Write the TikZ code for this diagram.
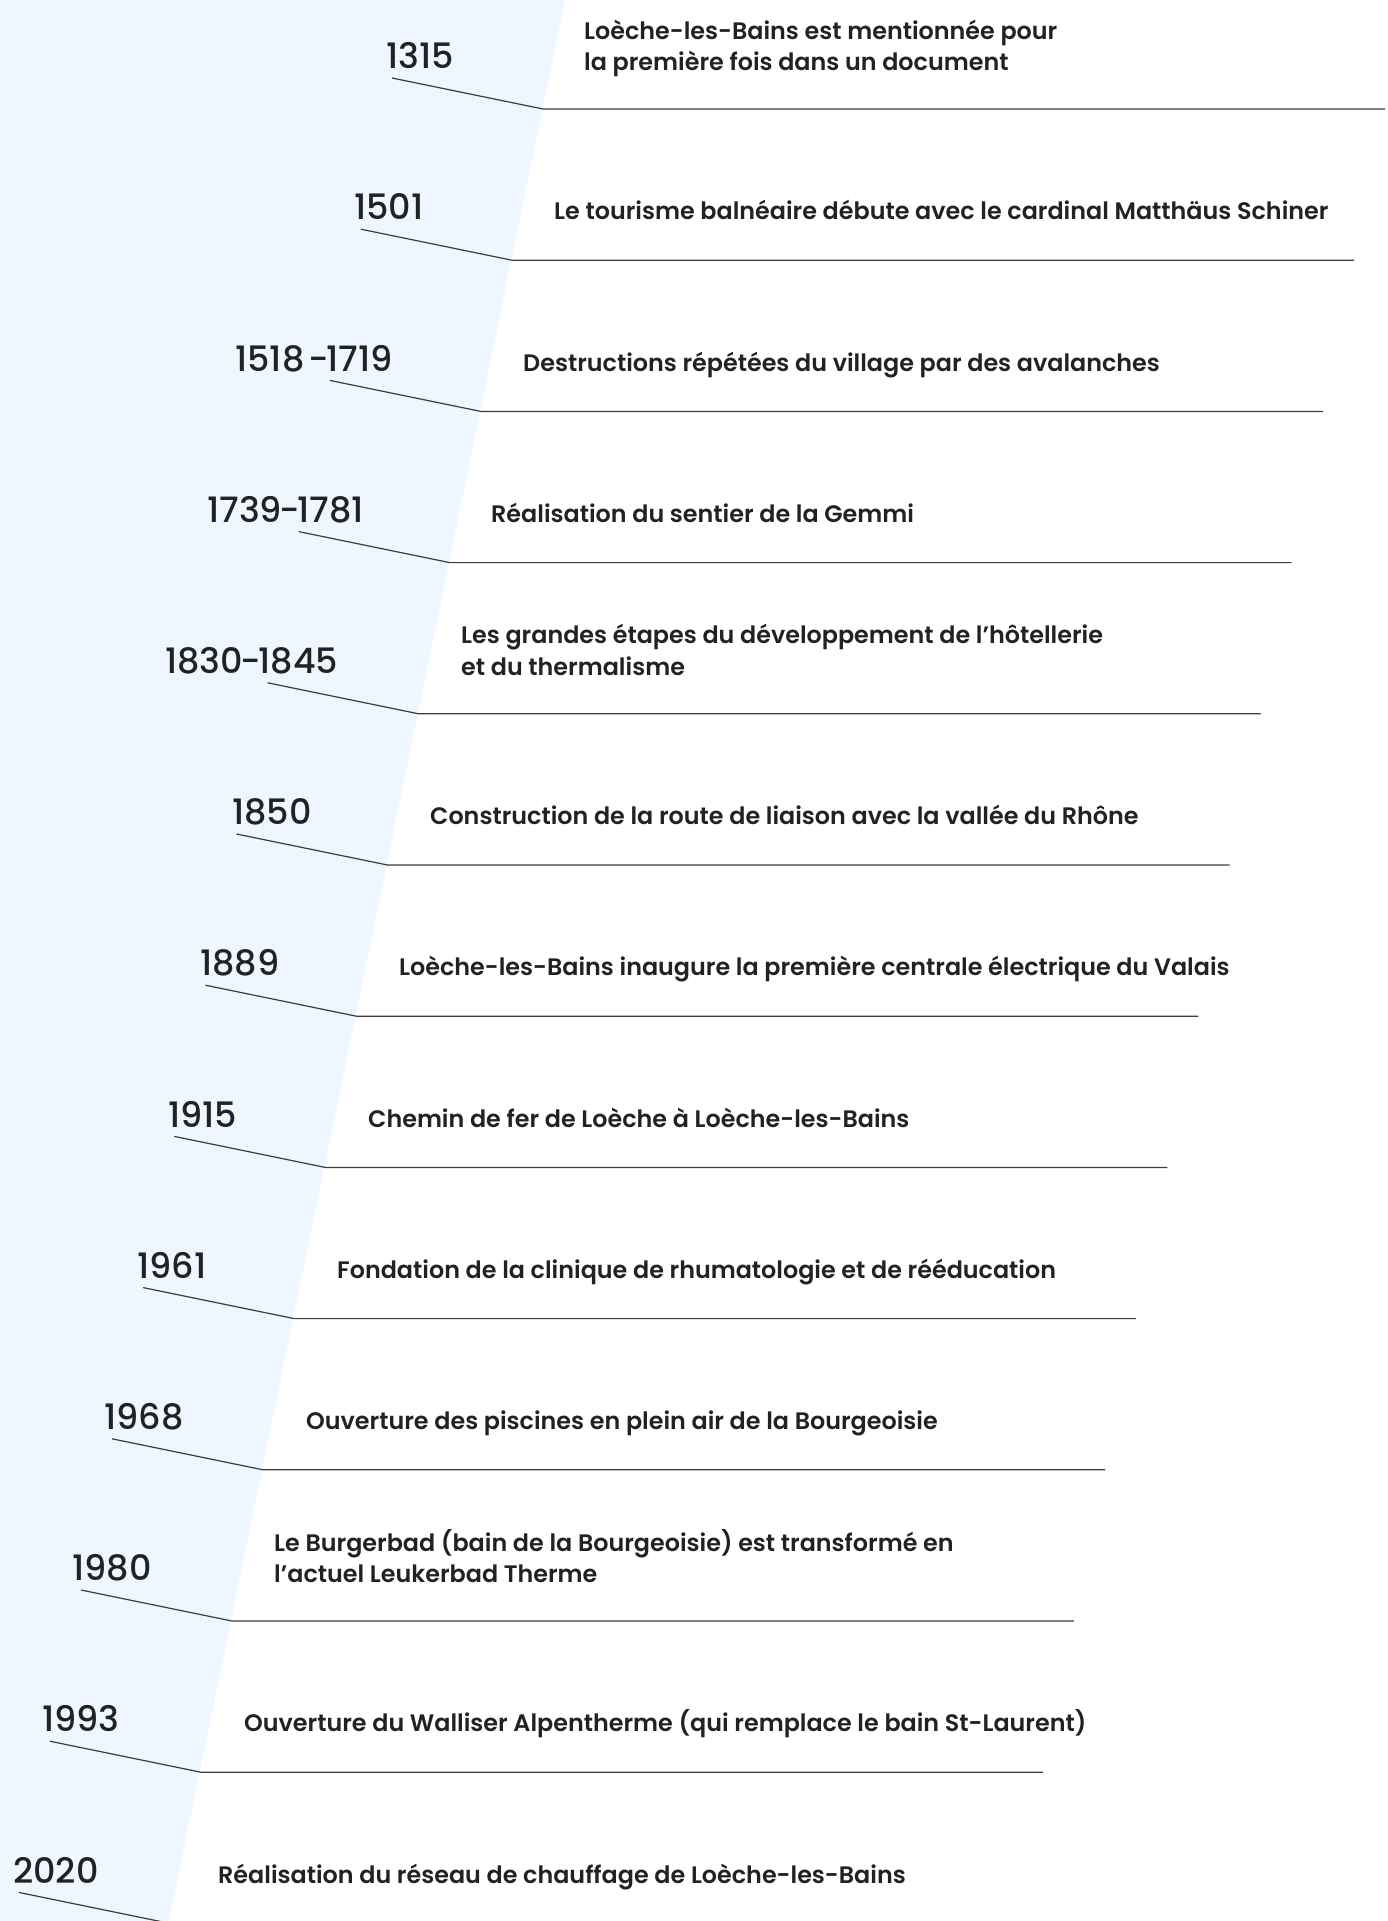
\documentclass[tikz,border=0pt]{standalone}
\usepackage{fontspec}
\newfontfamily\yearfont{Poppins Medium}
\newfontfamily\descfont{Poppins SemiBold}
\definecolor{bgblue}{RGB}{238,246,255}
\definecolor{ink}{RGB}{34,34,34}
\definecolor{rule}{RGB}{60,60,60}
\newcommand{\yhy}{\kern-2.5pt-\kern-2.5pt}
\begin{document}
\begin{tikzpicture}[x=1pt,y=-1pt,
  yearlbl/.style={anchor=base west,inner sep=0pt,text=ink,font=\yearfont\fontsize{35}{40}\selectfont},
  desclbl/.style={anchor=base west,inner sep=0pt,text=ink,align=left,font=\descfont\fontsize{23.85}{31.5}\selectfont},
  tline/.style={draw=rule,line width=1.2pt}]
\useasboundingbox (0,0) rectangle (1387,1921);
\fill[bgblue] (0,0) -- (565,0) -- (169,1921) -- (0,1921) -- cycle;
% events: index / year x / year / desc x / desc / second line
\foreach \i/\yx/\yr/\dx/\da/\db in {
 0/386/1315/584/{Loèche-les-Bains est mentionnée pour}/{la première fois dans un document},
 1/354/1501/554/{Le tourisme balnéaire débute avec le cardinal Matthäus Schiner}/{},
 2/235/{1518\kern4pt-\kern-2.5pt1719}/523/{Destructions répétées du village par des avalanches}/{},
 3/207/{1739\yhy1781}/491/{Réalisation du sentier de la Gemmi}/{},
 4/165/{1830\yhy1845}/461/{Les grandes étapes du développement de l’hôtellerie}/{et du thermalisme},
 5/232/1850/430/{Construction de la route de liaison avec la vallée du Rhône}/{},
 6/200/1889/399/{Loèche-les-Bains inaugure la première centrale électrique du Valais}/{},
 7/168/1915/368/{Chemin de fer de Loèche à Loèche-les-Bains}/{},
 8/137/1961/337/{Fondation de la clinique de rhumatologie et de rééducation}/{},
 9/104/1968/306/{Ouverture des piscines en plein air de la Bourgeoisie}/{},
 10/72/1980/274/{Le Burgerbad (bain de la Bourgeoisie) est transformé en}/{l’actuel Leukerbad Therme},
 11/42/1993/244/{Ouverture du Walliser Alpentherme (qui remplace le bain St-Laurent)}/{},
 12/13/2020/218/{Réalisation du réseau de chauffage de Loèche-les-Bains}/{}}
{
  \pgfmathsetmacro{\by}{68.6+151.2*\i}
  \pgfmathsetmacro{\cx}{543-31.1*\i}
  \pgfmathsetmacro{\cy}{109+151.2*\i}
  \node[yearlbl] (y\i) at (\yx,\by) {\yr};
  \coordinate (s\i) at (\cx-151,\cy-31);
  \coordinate (c\i) at (\cx,\cy);
  \coordinate (e\i) at (\cx+842,\cy);
  \ifx\db\empty
    \node[desclbl] (d\i) at (\dx,\by) {\da};
  \else
    \node[desclbl] (d\i) at (\dx,\by+2) {\da\\\db};
  \fi
  \ifnum\i<12
    \draw[tline] (s\i) -- (c\i) -- (e\i);
  \else
    \draw[tline] (s\i) -- (c\i);
  \fi
}
\end{tikzpicture}
\end{document}
